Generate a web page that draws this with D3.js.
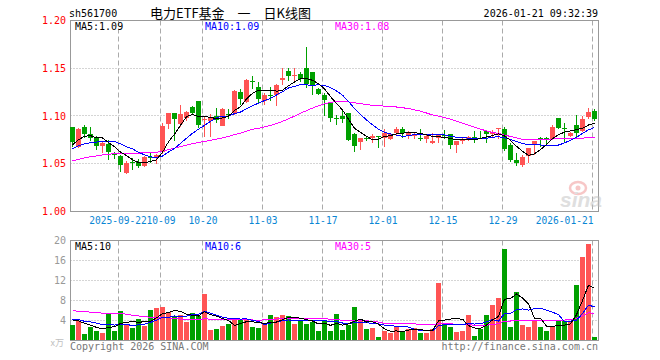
<!DOCTYPE html>
<html>
<head>
<meta charset="utf-8">
<script src="https://cdn.jsdelivr.net/npm/d3@7"></script>
<style>
body { margin: 0; background: #fff; }
svg { display: block; }
</style>
</head>
<body>
<svg id="chart" width="660" height="360"></svg>
<script>
var dates = ["2025-09-10","2025-09-11","2025-09-12","2025-09-15","2025-09-16","2025-09-17","2025-09-18","2025-09-19","2025-09-22","2025-09-23","2025-09-24","2025-09-25","2025-09-26","2025-09-29","2025-09-30",
  "2025-10-09","2025-10-10","2025-10-13","2025-10-14","2025-10-15","2025-10-16","2025-10-17","2025-10-20","2025-10-21","2025-10-22","2025-10-23","2025-10-24","2025-10-27","2025-10-28","2025-10-29","2025-10-30","2025-10-31",
  "2025-11-03","2025-11-04","2025-11-05","2025-11-06","2025-11-07","2025-11-10","2025-11-11","2025-11-12","2025-11-13","2025-11-14","2025-11-17","2025-11-18","2025-11-19","2025-11-20","2025-11-21","2025-11-24","2025-11-25","2025-11-26","2025-11-27","2025-11-28",
  "2025-12-01","2025-12-02","2025-12-03","2025-12-04","2025-12-05","2025-12-08","2025-12-09","2025-12-10","2025-12-11","2025-12-12","2025-12-15","2025-12-16","2025-12-17","2025-12-18","2025-12-19","2025-12-22","2025-12-23","2025-12-24","2025-12-25","2025-12-26","2025-12-29","2025-12-30","2025-12-31",
  "2026-01-05","2026-01-06","2026-01-07","2026-01-08","2026-01-09","2026-01-12","2026-01-13","2026-01-14","2026-01-15","2026-01-16","2026-01-19","2026-01-20","2026-01-21"];

var opens = [1.088,1.068,1.089,1.081,1.078,1.069,1.071,1.060,1.058,1.040,
  1.0515,1.052,1.048,1.057,1.0575,1.062,1.092,1.103,1.092,1.098,
  1.109,1.1155,1.0955,1.095,1.1005,1.090,1.102,1.1035,1.125,1.115,
  1.137,1.1305,1.1155,1.1225,1.1225,1.138,1.1475,1.1415,1.1445,1.150,
  1.1465,1.128,1.1225,1.115,1.098,1.1005,1.103,1.081,1.073,1.0767,
  1.0767,1.0788,1.0767,1.0757,1.082,1.086,1.079,1.079,1.0772,1.0757,
  1.0715,1.0767,1.0796,1.081,1.0694,1.074,1.0757,1.0785,1.0774,1.0844,
  1.0809,1.0866,1.0868,1.0694,1.0542,1.0486,1.0576,1.0701,1.0767,1.0767,
  1.0757,1.0976,1.0872,1.0792,1.0903,1.0844,1.0993,1.1052];
var highs = [1.089,1.087,1.091,1.088,1.079,1.074,1.075,1.062,1.059,1.053,
  1.056,1.055,1.058,1.061,1.060,1.093,1.1035,1.103,1.112,1.105,
  1.110,1.1155,1.100,1.102,1.1085,1.1085,1.1075,1.127,1.128,1.139,
  1.142,1.1355,1.124,1.1305,1.134,1.150,1.150,1.150,1.146,1.172,
  1.1465,1.1295,1.124,1.115,1.1015,1.105,1.103,1.0825,1.0767,1.0785,
  1.0815,1.079,1.086,1.0826,1.089,1.089,1.0845,1.0826,1.0868,1.081,
  1.0826,1.0816,1.085,1.081,1.074,1.0774,1.0792,1.0844,1.0844,1.0844,
  1.0854,1.0878,1.0889,1.0715,1.061,1.059,1.067,1.0736,1.0785,1.078,
  1.0903,1.0976,1.0931,1.0833,1.1007,1.100,1.108,1.107];
var lows = [1.068,1.066,1.077,1.074,1.064,1.061,1.054,1.055,1.041,1.039,
  1.0435,1.046,1.0465,1.051,1.050,1.060,1.086,1.074,1.089,1.095,
  1.101,1.087,1.078,1.078,1.093,1.0895,1.0965,1.1015,1.112,1.114,
  1.128,1.113,1.112,1.1155,1.110,1.132,1.1365,1.1345,1.1355,1.1295,
  1.1225,1.1215,1.1005,1.094,1.091,1.093,1.074,1.062,1.0645,1.074,
  1.072,1.067,1.068,1.075,1.079,1.0767,1.0757,1.0757,1.074,1.072,
  1.0705,1.072,1.0757,1.065,1.061,1.0705,1.074,1.0722,1.0757,1.0722,
  1.0767,1.0764,1.0635,1.052,1.048,1.047,1.0507,1.059,1.068,1.0688,
  1.075,1.0868,1.0722,1.0785,1.0764,1.0833,1.0965,1.0948];
var closes = [1.073,1.086,1.081,1.077,1.069,1.072,1.062,1.059,1.049,1.0505,
  1.0505,1.048,1.057,1.056,1.059,1.090,1.103,1.097,1.102,1.104,
  1.103,1.091,1.0965,1.099,1.096,1.107,1.101,1.126,1.118,1.138,
  1.1355,1.118,1.1225,1.122,1.132,1.140,1.1415,1.1425,1.139,1.133,
  1.131,1.123,1.1165,1.098,1.097,1.097,1.075,1.069,1.0767,1.076,
  1.079,1.0785,1.0826,1.081,1.086,1.082,1.0826,1.081,1.0767,1.079,
  1.074,1.080,1.0792,1.0694,1.074,1.0764,1.0785,1.0767,1.077,1.0816,
  1.0837,1.0878,1.0653,1.0542,1.0507,1.0566,1.067,1.0736,1.0762,1.0762,
  1.0885,1.0878,1.0868,1.0826,1.0826,1.0965,1.1042,1.0972];
// volume in 万手
var volumes = [3.1,4.0,1.33,2.67,2.0,1.6,5.47,2.0,5.93,3.13,
  2.6,4.33,3.0,6.13,6.6,6.73,5.67,4.93,5.13,3.8,
  5.6,4.93,9.4,2.13,2.4,2.93,3.33,4.13,4.27,4.13,
  2.8,2.6,3.27,5.13,4.67,5.13,4.93,3.33,4.13,3.33,
  3.8,1.93,4.13,1.93,5.33,2.13,3.13,6.73,4.13,2.33,
  2.53,0.73,1.93,1.6,2.8,1.8,2.33,2.47,1.53,1.6,
  2.33,11.6,3.27,2.67,1.8,2.0,5.13,0.93,2.27,5.13,
  7.13,8.53,18.33,2.73,9.73,3.13,2.73,3.93,2.73,1.93,
  2.73,4.0,4.0,4.0,11.13,16.8,19.33,0.8];

// sessions before the visible window, only feed the moving averages
var preCloses = [1.035,1.038,1.042,1.040,1.044,1.039,1.041,1.043,1.043,
  1.045,1.047,1.050,1.048,1.052,1.055,1.051,1.053,1.056,1.054,1.054,
  1.058,1.061,1.064,1.062,1.065,1.059,1.063,1.074,1.080];
var preVolumes = [5.5,4.8,5.2,4.6,5.4,5.0,5.3,5.2,
  7.2,9.5,8.1,6.8,10.2,7.5,8.8,6.4,7.9,8.3,6.9,6.6,
  4.6,5.1,3.9,4.4,4.2,4.8,3.9,4.5,4.2];

var priceTicks = [1.00, 1.05, 1.10, 1.15, 1.20];
var volTicks = [4, 8, 12, 16, 20];
var tickDates = ["2025-09-22","2025-10-09","2025-10-20","2025-11-03","2025-11-17","2025-12-01","2025-12-15","2025-12-29","2026-01-21"];
var tickLabels = ["2025-09-22","10-09","10-20","11-03","11-17","12-01","12-15","12-29","2026-01-21"];

var red = '#ff5454', green = '#00a000';
var mono = '"DejaVu Sans Mono", monospace';

var svg = d3.select('#chart');

var x = d3.scaleBand().domain(dates).range([70, 598]);
var yPrice = d3.scaleLinear().domain([1.00, 1.20]).range([211.5, 20.5]);
var yVol = d3.scaleLinear().domain([0, 20]).range([340.5, 240.5]);

var candles = dates.map(function (d, i) {
    return { date: d, open: opens[i], high: highs[i], low: lows[i], close: closes[i], vol: volumes[i], up: closes[i] >= opens[i] };
});

function movingAvg(pre, vals, n) {
    var all = pre.concat(vals);
    return vals.map(function (v, i) {
        var end = pre.length + i + 1;
        return d3.mean(all.slice(end - n, end));
    });
}

// panel frames and grid
function drawGrid(y, gridVals, top, bottom) {
    var g = svg.append('g');
    g.selectAll('line.h')
        .data(gridVals)
        .enter()
        .append('line')
        .attr('x1', 70.5).attr('x2', 598.5)
        .attr('y1', d => Math.floor(y(d)) + 0.5)
        .attr('y2', d => Math.floor(y(d)) + 0.5)
        .attr('stroke', '#aaa')
        .attr('stroke-dasharray', '1,2');
    g.selectAll('line.v')
        .data(tickDates)
        .enter()
        .append('line')
        .attr('x1', d => x(d) + 0.5).attr('x2', d => x(d) + 0.5)
        .attr('y1', top).attr('y2', bottom)
        .attr('stroke', '#aaa')
        .attr('stroke-dasharray', '5,3');
    g.append('rect')
        .attr('x', 70.5).attr('y', top)
        .attr('width', 528).attr('height', bottom - top)
        .attr('fill', 'none')
        .attr('stroke', '#999');
}

drawGrid(yPrice, [1.05, 1.10, 1.15], 20.5, 211.5);
drawGrid(yVol, [4, 8, 12, 16], 240.5, 340.5);

// sina watermark
var mark = svg.append('g').attr('opacity', 0.5);
mark.append('ellipse').attr('cx', 578).attr('cy', 188).attr('rx', 8).attr('ry', 6)
    .attr('fill', 'none').attr('stroke', '#f09090').attr('stroke-width', 2.5);
mark.append('circle').attr('cx', 578).attr('cy', 188).attr('r', 2.5).attr('fill', '#f09090');
mark.append('text').attr('x', 560).attr('y', 207)
    .attr('font-family', 'Liberation Sans, sans-serif').attr('font-size', 21)
    .attr('font-style', 'italic').attr('font-weight', 'bold')
    .attr('fill', '#c0c0c0').text('sina');

// candles
var cg = svg.append('g').attr('shape-rendering', 'crispEdges');
cg.selectAll('rect.wick')
    .data(candles)
    .enter()
    .append('rect')
    .attr('x', d => x(d.date) + 2)
    .attr('width', 1)
    .attr('y', d => Math.round(yPrice(d.high)))
    .attr('height', d => Math.max(1, Math.round(yPrice(d.low)) - Math.round(yPrice(d.high))))
    .attr('fill', d => d.up ? red : green);
cg.selectAll('rect.body')
    .data(candles)
    .enter()
    .append('rect')
    .attr('x', d => x(d.date))
    .attr('width', 5)
    .attr('y', d => Math.round(yPrice(Math.max(d.open, d.close))))
    .attr('height', d => Math.max(1, Math.round(yPrice(Math.min(d.open, d.close))) - Math.round(yPrice(Math.max(d.open, d.close)))))
    .attr('fill', d => d.up ? red : green);

// volume bars
cg.selectAll('rect.vol')
    .data(candles)
    .enter()
    .append('rect')
    .attr('x', d => x(d.date))
    .attr('width', 5)
    .attr('y', d => Math.round(yVol(d.vol)))
    .attr('height', d => 340 - Math.round(yVol(d.vol)))
    .attr('fill', d => d.up ? red : green);

// moving averages
var maColors = { 5: '#000', 10: '#0000ff', 30: '#ff00ff' };
var priceMA = {}, volMA = {};
[5, 10, 30].forEach(function (n) {
    priceMA[n] = movingAvg(preCloses, closes, n);
    volMA[n] = movingAvg(preVolumes, volumes, n);
});

function drawLine(vals, y, color) {
    var line = d3.line()
        .x((d, i) => x(dates[i]) + 2.5)
        .y(d => y(d));
    svg.append('path')
        .datum(vals)
        .attr('d', line)
        .attr('fill', 'none')
        .attr('stroke', color)
        .attr('stroke-width', 1)
        .attr('shape-rendering', 'crispEdges');
}

[30, 10, 5].forEach(function (n) {
    drawLine(priceMA[n], yPrice, maColors[n]);
    drawLine(volMA[n], yVol, maColors[n]);
});

// axes
var ay = svg.append('g')
    .attr('transform', 'translate(70,0)')
    .call(d3.axisLeft(yPrice).tickValues(priceTicks).tickFormat(d3.format('.2f')).tickSize(0).tickPadding(4));
ay.select('.domain').remove();
ay.selectAll('text').attr('fill', '#f00').attr('font-family', mono).attr('font-size', 10);

var av = svg.append('g')
    .attr('transform', 'translate(70,0)')
    .call(d3.axisLeft(yVol).tickValues(volTicks).tickSize(0).tickPadding(4));
av.select('.domain').remove();
av.selectAll('text').attr('fill', '#999').attr('font-family', mono).attr('font-size', 10);

var ax = svg.append('g')
    .attr('transform', 'translate(-2,212)')
    .call(d3.axisBottom(x).tickValues(tickDates).tickFormat((d, i) => tickLabels[i]).tickSize(0).tickPadding(5.5));
ax.select('.domain').remove();
ax.selectAll('text').attr('fill', '#0a86d4').attr('font-family', mono).attr('font-size', 9.6);
// the last date label is kept inside the frame
ax.selectAll('.tick').filter((d, i) => i === tickDates.length - 1)
    .select('text').attr('text-anchor', 'end').attr('x', 0.5);
ax.selectAll('.tick').filter((d, i) => i === 0)
    .select('text').attr('x', -1);

// texts
function label(txt, px, py, color, anchor, font, size) {
    svg.append('text')
        .attr('x', px).attr('y', py)
        .attr('fill', color)
        .attr('text-anchor', anchor || 'start')
        .attr('font-family', font || mono)
        .attr('font-size', size || 10)
        .text(txt);
}

var last = dates.length - 1;
label('sh561700', 69, 17, '#000');
label('电力ETF基金\u3000一\u3000日K线图', 150, 18, '#000', 'start', '"Noto Sans CJK SC", sans-serif', 13);
label('2026-01-21 09:32:39', 598, 17, '#000', 'end');

label('MA5:' + priceMA[5][last].toFixed(2), 75, 30, maColors[5]);
label('MA10:' + priceMA[10][last].toFixed(2), 205, 30, maColors[10]);
label('MA30:' + priceMA[30][last].toFixed(2), 335, 30, maColors[30]);

label('MA5:' + Math.floor(volMA[5][last]), 75, 249.5, maColors[5]);
label('MA10:' + Math.floor(volMA[10][last]), 205, 249.5, maColors[10]);
label('MA30:' + Math.floor(volMA[30][last]), 335, 249.5, maColors[30]);

label('x万', 64, 346, '#c0c0c0', 'end', '"Noto Sans CJK SC", sans-serif', 9);
label('Copyright 2026 SINA.COM', 70, 349.5, '#777');
label('http://finance.sina.com.cn', 598, 349.5, '#777', 'end');
</script>
</body>
</html>
